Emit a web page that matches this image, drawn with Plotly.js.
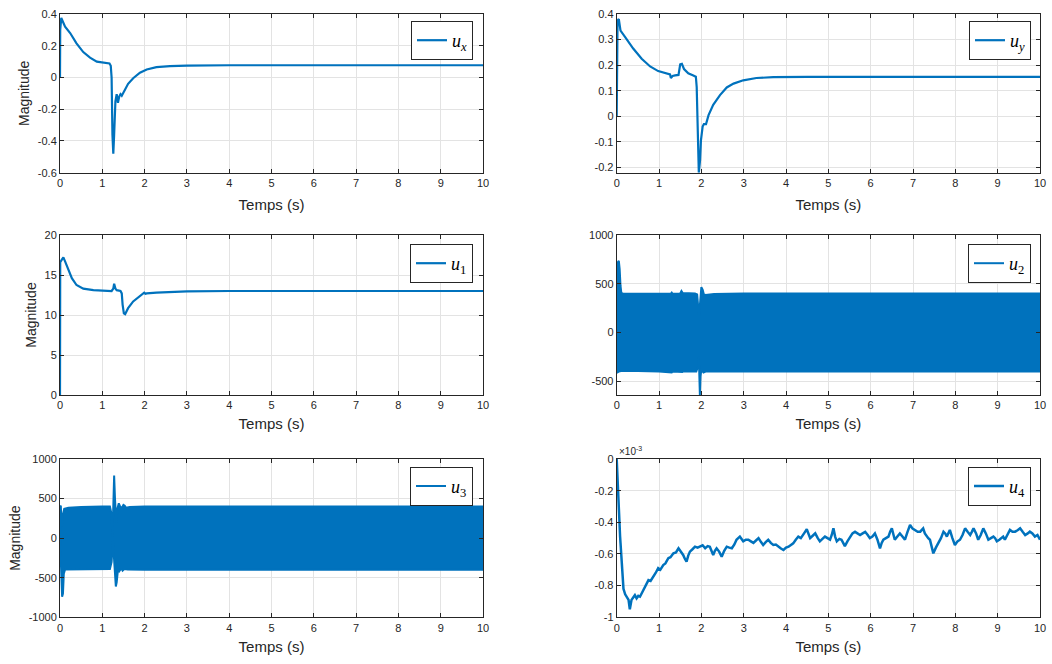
<!DOCTYPE html>
<html>
<head>
<meta charset="utf-8">
<script src="https://cdn.plot.ly/plotly-3.0.1.min.js"></script>
<style>
  html, body { margin: 0; padding: 0; background: #fff; }
  #chart { width: 1052px; height: 664px; }
</style>
</head>
<body>
<div id="chart"></div>
<script>
// Control signals of the simulation, sampled as [time (s), value] pairs.
const uxPoints = [
  [0, 0], [0.005, 0.30], [0.03, 0.375], [0.05, 0.36], [0.12, 0.32], [0.24, 0.28],
  [0.39, 0.215], [0.55, 0.16], [0.71, 0.125], [0.87, 0.10], [1.02, 0.093], [1.17, 0.088],
  [1.2, 0.074], [1.22, 0.0], [1.24, -0.36], [1.26, -0.48], [1.28, -0.36], [1.31, -0.15],
  [1.34, -0.105], [1.37, -0.16], [1.4, -0.12], [1.43, -0.105], [1.46, -0.115], [1.5, -0.095],
  [1.54, -0.07], [1.61, -0.04], [1.73, -0.005], [1.89, 0.03], [2.05, 0.05], [2.28, 0.065],
  [2.6, 0.072], [3.0, 0.075], [4, 0.077], [10, 0.077]
];

const uyPoints = [
  [0, 0], [0.005, 0.30], [0.02, 0.375], [0.05, 0.38], [0.09, 0.335], [0.2, 0.31],
  [0.39, 0.265], [0.59, 0.225], [0.79, 0.195], [0.98, 0.177], [1.18, 0.167], [1.26, 0.164],
  [1.28, 0.15], [1.32, 0.158], [1.38, 0.16], [1.46, 0.162], [1.5, 0.203], [1.54, 0.205],
  [1.59, 0.185], [1.69, 0.168], [1.81, 0.16], [1.87, 0.155], [1.89, 0.115], [1.91, -0.04],
  [1.94, -0.22], [1.97, -0.17], [1.99, -0.094], [2.03, -0.04], [2.06, -0.03], [2.11, -0.03],
  [2.17, 0.005], [2.28, 0.045], [2.44, 0.083], [2.6, 0.113], [2.76, 0.128], [2.99, 0.141],
  [3.3, 0.15], [3.7, 0.153], [4.5, 0.154], [10, 0.154]
];

const u1Points = [
  [0, 0], [0.005, 16.6], [0.04, 16.9], [0.08, 17.2], [0.12, 16.7], [0.2, 15.6],
  [0.28, 14.6], [0.39, 13.75], [0.55, 13.3], [0.79, 13.1], [1.02, 13.0], [1.22, 13.0],
  [1.26, 13.3], [1.28, 13.9], [1.31, 13.3], [1.34, 13.1], [1.43, 13.0], [1.46, 12.7],
  [1.48, 11.3], [1.51, 10.2], [1.54, 10.1], [1.61, 10.85], [1.73, 11.7], [1.85, 12.2],
  [1.93, 12.5], [1.97, 12.6], [1.99, 12.8], [2.02, 12.65], [2.05, 12.7], [2.28, 12.8],
  [2.68, 12.9], [3.0, 12.95], [4, 13.0], [10, 13.0]
];

// u2 and u3 switch too fast to resolve: upper and lower envelopes of the oscillation.
const u2Upper = [
  [0, 0], [0.01, 300], [0.025, 720], [0.05, 735], [0.07, 650], [0.09, 480], [0.11, 405],
  [0.15, 398], [0.5, 400], [1.0, 400], [1.28, 400], [1.3, 410], [1.32, 398], [1.5, 400],
  [1.53, 425], [1.56, 405], [1.85, 400], [1.9, 390], [1.93, 250], [1.945, 170], [1.96, 250],
  [1.98, 420], [2.0, 465], [2.03, 440], [2.06, 390], [2.1, 385], [2.3, 395], [3, 400], [10, 400]
];
const u2Lower = [
  [0, 0], [0.01, -410], [0.05, -400], [0.1, -395], [0.5, -395], [1.0, -398], [1.3, -410],
  [1.32, -398], [1.55, -405], [1.57, -398], [1.88, -400], [1.92, -350], [1.94, -250],
  [1.95, -640], [1.965, -640], [1.98, -450], [2.0, -380], [2.05, -410], [2.1, -400], [10, -400]
];

const u3Upper = [
  [0, 0], [0.005, 410], [0.02, 400], [0.035, 200], [0.05, 150], [0.07, 300], [0.1, 370],
  [0.2, 385], [0.5, 395], [1.0, 400], [1.18, 400], [1.22, 300], [1.24, 20], [1.26, 400],
  [1.28, 790], [1.3, 500], [1.33, 200], [1.36, 380], [1.39, 440], [1.42, 400], [1.46, 380],
  [1.5, 420], [1.53, 410], [1.56, 385], [1.65, 395], [2, 400], [10, 400]
];
const u3Lower = [
  [0, 0], [0.01, -200], [0.03, -600], [0.05, -740], [0.07, -700], [0.09, -450], [0.12, -395],
  [0.5, -390], [1.0, -390], [1.18, -390], [1.22, -300], [1.25, -30], [1.27, -200], [1.3, -450],
  [1.32, -610], [1.34, -560], [1.37, -400], [1.4, -420], [1.45, -380], [1.48, -410],
  [1.52, -390], [1.6, -395], [2, -400], [10, -400]
];

// u4 in units of 1e-3.
const u4Points = [
  [0, 0], [0.04, -0.26], [0.08, -0.49], [0.12, -0.655], [0.16, -0.82], [0.2, -0.855],
  [0.24, -0.87], [0.28, -0.89], [0.31, -0.95], [0.35, -0.89], [0.39, -0.875], [0.43, -0.86],
  [0.47, -0.88], [0.51, -0.865], [0.55, -0.87], [0.59, -0.85], [0.63, -0.835], [0.67, -0.81],
  [0.71, -0.79], [0.75, -0.765], [0.8, -0.77], [0.87, -0.745], [0.92, -0.72], [0.98, -0.69],
  [1.03, -0.70], [1.1, -0.67], [1.15, -0.66], [1.22, -0.627], [1.27, -0.62], [1.34, -0.596],
  [1.4, -0.59], [1.46, -0.564], [1.51, -0.58], [1.57, -0.606], [1.61, -0.63], [1.65, -0.648],
  [1.69, -0.61], [1.73, -0.585], [1.79, -0.57], [1.85, -0.554], [1.91, -0.56], [1.97, -0.55],
  [2.03, -0.545], [2.09, -0.564], [2.15, -0.55], [2.2, -0.554], [2.24, -0.58], [2.28, -0.606],
  [2.32, -0.58], [2.36, -0.564], [2.42, -0.585], [2.48, -0.617], [2.54, -0.58], [2.6, -0.554],
  [2.66, -0.56], [2.72, -0.564], [2.78, -0.54], [2.83, -0.51], [2.87, -0.50], [2.91, -0.49],
  [2.95, -0.505], [2.99, -0.52], [3.05, -0.51], [3.11, -0.51], [3.17, -0.52], [3.23, -0.53],
  [3.29, -0.515], [3.35, -0.50], [3.41, -0.525], [3.46, -0.543], [3.52, -0.525], [3.58, -0.51],
  [3.64, -0.53], [3.7, -0.543], [3.76, -0.54], [3.82, -0.554], [3.88, -0.565], [3.94, -0.575],
  [4.0, -0.56], [4.06, -0.554], [4.12, -0.545], [4.17, -0.533], [4.23, -0.51], [4.29, -0.49],
  [4.35, -0.50], [4.41, -0.48], [4.45, -0.46], [4.49, -0.444], [4.53, -0.48], [4.57, -0.50],
  [4.63, -0.485], [4.69, -0.47], [4.75, -0.50], [4.8, -0.52], [4.86, -0.505], [4.92, -0.49],
  [4.98, -0.50], [5.04, -0.51], [5.08, -0.48], [5.12, -0.438], [5.16, -0.49], [5.2, -0.52],
  [5.26, -0.505], [5.31, -0.51], [5.35, -0.53], [5.39, -0.55], [5.45, -0.52], [5.51, -0.49],
  [5.57, -0.47], [5.63, -0.46], [5.69, -0.47], [5.75, -0.48], [5.81, -0.47], [5.87, -0.46],
  [5.93, -0.48], [5.98, -0.50], [6.04, -0.49], [6.1, -0.47], [6.16, -0.51], [6.22, -0.564],
  [6.26, -0.53], [6.3, -0.51], [6.36, -0.50], [6.42, -0.49], [6.46, -0.46], [6.5, -0.437],
  [6.54, -0.48], [6.57, -0.51], [6.63, -0.49], [6.69, -0.47], [6.75, -0.49], [6.81, -0.51],
  [6.87, -0.46], [6.93, -0.417], [6.99, -0.44], [7.05, -0.448], [7.11, -0.46], [7.17, -0.459],
  [7.21, -0.45], [7.24, -0.438], [7.28, -0.47], [7.32, -0.49], [7.36, -0.50], [7.4, -0.51],
  [7.44, -0.55], [7.48, -0.596], [7.54, -0.56], [7.6, -0.533], [7.66, -0.50], [7.72, -0.459],
  [7.76, -0.47], [7.8, -0.49], [7.84, -0.46], [7.87, -0.448], [7.93, -0.50], [7.99, -0.543],
  [8.05, -0.52], [8.11, -0.51], [8.17, -0.48], [8.23, -0.438], [8.29, -0.46], [8.35, -0.48],
  [8.39, -0.46], [8.43, -0.438], [8.49, -0.47], [8.54, -0.51], [8.6, -0.48], [8.66, -0.438],
  [8.72, -0.47], [8.78, -0.51], [8.84, -0.50], [8.9, -0.49], [8.94, -0.50], [8.98, -0.52],
  [9.04, -0.51], [9.09, -0.50], [9.13, -0.49], [9.17, -0.51], [9.23, -0.48], [9.29, -0.448],
  [9.35, -0.46], [9.41, -0.459], [9.47, -0.45], [9.53, -0.438], [9.59, -0.46], [9.65, -0.48],
  [9.71, -0.47], [9.76, -0.459], [9.82, -0.47], [9.88, -0.49], [9.94, -0.48], [10, -0.51]
];

// Tick positions and labels.
const timeTicks = [0, 1, 2, 3, 4, 5, 6, 7, 8, 9, 10];
const uxTicks = [-0.6, -0.4, -0.2, 0, 0.2, 0.4];
const uyTicks = [-0.2, -0.1, 0, 0.1, 0.2, 0.3, 0.4];
const u1Ticks = [0, 5, 10, 15, 20];
const u2Ticks = [-500, 0, 500, 1000];
const u3Ticks = [-1000, -500, 0, 500, 1000];
const u4Ticks = [-1, -0.8, -0.6, -0.4, -0.2, 0];

const seriesNames = ['<i>u</i><sub><i>x</i></sub>', '<i>u</i><sub><i>y</i></sub>',
  '<i>u</i><sub>1</sub>', '<i>u</i><sub>2</sub>', '<i>u</i><sub>3</sub>', '<i>u</i><sub>4</sub>'];

const BLUE = '#0072BD';
const INK = '#262626';
const W = 1052, H = 664;

const xs = p => p.map(d => d[0]);
const ys = p => p.map(d => d[1]);

// Panel boxes in pixels: [left, right] per column, [top, bottom] per row
const cols = [[60, 483], [616.7, 1040]];
const rows = [[14, 172.7], [235, 395], [459, 617.3]];

function xAxis(col, row, anchor) {
  return {
    domain: [cols[col][0] / W, cols[col][1] / W],
    anchor: anchor,
    range: [0, 10],
    tickvals: timeTicks, ticktext: timeTicks.map(String),
    ticks: 'inside', ticklen: 4, tickcolor: INK, tickwidth: 1,
    showline: true, linecolor: INK, linewidth: 1, mirror: 'ticks',
    showgrid: true, gridcolor: '#e3e3e3', gridwidth: 1, zeroline: false,
    tickfont: { family: 'Liberation Sans, Arial, sans-serif', size: 11, color: INK },
    title: { text: 'Temps (s)', standoff: row === 0 ? 11 : 8,
             font: { family: 'Liberation Sans, Arial, sans-serif', size: 15, color: INK } }
  };
}

function yAxis(col, row, anchor, range, ticks, withTitle) {
  return {
    domain: [1 - rows[row][1] / H, 1 - rows[row][0] / H],
    anchor: anchor,
    range: range,
    tickvals: ticks, ticktext: ticks.map(String),
    ticks: 'inside', ticklen: 4, tickcolor: INK, tickwidth: 1,
    showline: true, linecolor: INK, linewidth: 1, mirror: 'ticks',
    showgrid: true, gridcolor: '#e3e3e3', gridwidth: 1, zeroline: false,
    tickfont: { family: 'Liberation Sans, Arial, sans-serif', size: 11, color: INK },
    title: withTitle ? { text: 'Magnitude', standoff: 4,
             font: { family: 'Liberation Sans, Arial, sans-serif', size: 14, color: INK } } : { text: '' }
  };
}

function legendBox(col, row) {
  const right = col === 0 ? 473 : 1031;
  const top = [21, 244, 466.7][row];
  return {
    x: right / W, y: 1 - top / H, xanchor: 'right', yanchor: 'top',
    bgcolor: '#ffffff', bordercolor: INK, borderwidth: 1,
    font: { family: 'Liberation Serif, DejaVu Serif, serif', size: 18, color: '#000' },
    itemwidth: 30, tracegroupgap: 0
  };
}

const lineStyle = { color: BLUE, width: 2.2 };
const bandEdge = { color: BLUE, width: 2 };

const traces = [
  { x: xs(uxPoints), y: ys(uxPoints), xaxis: 'x', yaxis: 'y', mode: 'lines',
    line: lineStyle, name: seriesNames[0], legend: 'legend' },
  { x: xs(uyPoints), y: ys(uyPoints), xaxis: 'x2', yaxis: 'y2', mode: 'lines',
    line: lineStyle, name: seriesNames[1], legend: 'legend2' },
  { x: xs(u1Points), y: ys(u1Points), xaxis: 'x3', yaxis: 'y3', mode: 'lines',
    line: lineStyle, name: seriesNames[2], legend: 'legend3' },
  // u2 band: upper edge carries the legend entry, lower edge fills up to it
  { x: xs(u2Upper), y: ys(u2Upper), xaxis: 'x4', yaxis: 'y4', mode: 'lines',
    line: bandEdge, name: seriesNames[3], legend: 'legend4' },
  { x: xs(u2Lower), y: ys(u2Lower), xaxis: 'x4', yaxis: 'y4', mode: 'lines',
    line: bandEdge, fill: 'tonexty', fillcolor: BLUE, showlegend: false },
  { x: xs(u3Upper), y: ys(u3Upper), xaxis: 'x5', yaxis: 'y5', mode: 'lines',
    line: bandEdge, name: seriesNames[4], legend: 'legend5' },
  { x: xs(u3Lower), y: ys(u3Lower), xaxis: 'x5', yaxis: 'y5', mode: 'lines',
    line: bandEdge, fill: 'tonexty', fillcolor: BLUE, showlegend: false },
  { x: xs(u4Points), y: ys(u4Points), xaxis: 'x6', yaxis: 'y6', mode: 'lines',
    line: { color: BLUE, width: 2.5 }, name: seriesNames[5], legend: 'legend6' }
];

const layout = {
  width: W, height: H,
  margin: { l: 0, r: 0, t: 0, b: 0 },
  paper_bgcolor: '#ffffff', plot_bgcolor: '#ffffff',
  showlegend: true,
  xaxis: xAxis(0, 0, 'y'),   yaxis: yAxis(0, 0, 'x', [-0.6, 0.4], uxTicks, true),
  xaxis2: xAxis(1, 0, 'y2'), yaxis2: yAxis(1, 0, 'x2', [-0.22, 0.4], uyTicks, false),
  xaxis3: xAxis(0, 1, 'y3'), yaxis3: yAxis(0, 1, 'x3', [0, 20], u1Ticks, true),
  xaxis4: xAxis(1, 1, 'y4'), yaxis4: yAxis(1, 1, 'x4', [-640, 1000], u2Ticks, false),
  xaxis5: xAxis(0, 2, 'y5'), yaxis5: yAxis(0, 2, 'x5', [-1000, 1000], u3Ticks, true),
  xaxis6: xAxis(1, 2, 'y6'), yaxis6: yAxis(1, 2, 'x6', [-1, 0], u4Ticks, false),
  legend: legendBox(0, 0), legend2: legendBox(1, 0), legend3: legendBox(0, 1),
  legend4: legendBox(1, 1), legend5: legendBox(0, 2), legend6: legendBox(1, 2),
  annotations: [{
    text: '×10<sup>-3</sup>', xref: 'paper', yref: 'paper',
    x: cols[1][0] / W, y: 1 - rows[2][0] / H, xanchor: 'left', yanchor: 'bottom',
    showarrow: false, font: { family: 'Liberation Sans, Arial, sans-serif', size: 10, color: INK }
  }]
};

Plotly.newPlot('chart', traces, layout, { staticPlot: true, displayModeBar: false });
</script>
</body>
</html>
